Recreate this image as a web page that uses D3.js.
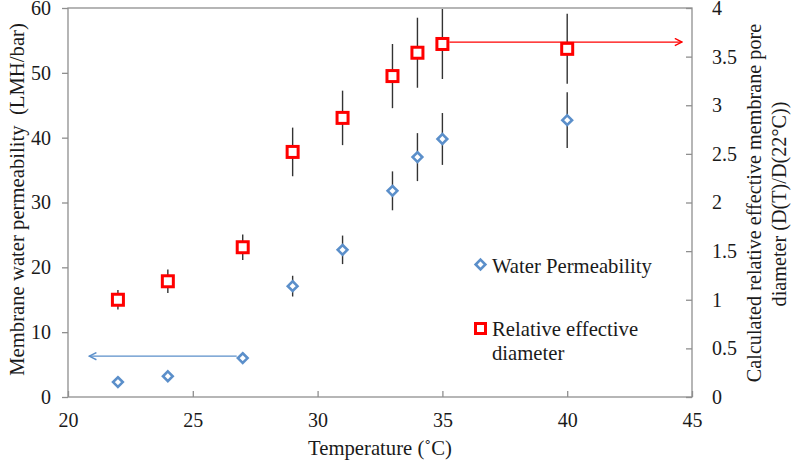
<!DOCTYPE html>
<html>
<head>
<meta charset="utf-8">
<script src="https://cdn.jsdelivr.net/npm/d3@7"></script>
<style>
  body { margin: 0; background: #fff; }
</style>
</head>
<body>
<svg id="chart" width="800" height="464"></svg>
<script>
// temperatures (deg C)
var temps = [22, 24, 27, 29, 31, 33, 34, 35, 40];
// water permeability (LMH/bar), left axis, with error half-widths
var permeability = [2.3, 3.2, 6.0, 17.1, 22.7, 31.8, 37.0, 39.8, 42.7];
var permErr = [0.4, 0.5, 0.5, 1.6, 2.2, 3.0, 3.7, 4.0, 4.3];
// relative effective diameter D(T)/D(22C), right axis
var diameter = [1.0, 1.19, 1.54, 2.52, 2.87, 3.30, 3.54, 3.63, 3.58];
var diamErr = [0.1, 0.12, 0.13, 0.25, 0.28, 0.33, 0.36, 0.36, 0.36];
// ticks
var xTicks = [20, 25, 30, 35, 40, 45];
var leftTicks = [0, 10, 20, 30, 40, 50, 60];
var rightTicks = [0, 0.5, 1, 1.5, 2, 2.5, 3, 3.5, 4];

var blue = "#5b8fca", red = "#ff0000", axisCol = "#8f8f8f", ink = "#1a1a1a";
var font = "'Liberation Serif'";

var svg = d3.select("#chart"),
    margin = {top: 8, right: 108, bottom: 67, left: 68},
    width = 800 - margin.left - margin.right,
    height = 464 - margin.top - margin.bottom,
    g = svg.append("g").attr("transform", "translate(" + margin.left + "," + margin.top + ")");

var x = d3.scaleLinear().domain([20, 45]).range([0, width]);
var yL = d3.scaleLinear().domain([0, 60]).range([height, 0]);
var yR = d3.scaleLinear().domain([0, 4]).range([height, 0]);

var txt = function(sel, size) {
  sel.style("font-family", font).style("font-size", (size || 20.7) + "px").attr("fill", ink);
};

// plot frame
g.append("rect").attr("width", width).attr("height", height)
  .attr("fill", "none").attr("stroke", axisCol).attr("stroke-width", 1.3);

var styleAxis = function(sel) {
  sel.select(".domain").remove();
  sel.selectAll(".tick line").attr("stroke", axisCol).attr("stroke-width", 1.3);
  sel.selectAll(".tick text").call(txt, 20);
};

g.append("g")
  .call(d3.axisLeft(yL).tickValues(leftTicks).tickSize(6).tickPadding(11))
  .call(styleAxis);

g.append("g")
  .attr("transform", "translate(" + width + ",0)")
  .call(d3.axisRight(yR).tickValues(rightTicks).tickSize(-6).tickPadding(20)
    .tickFormat(function(d) { return d; }))
  .call(styleAxis);

var xa = g.append("g")
  .attr("transform", "translate(0," + height + ")")
  .call(d3.axisBottom(x).tickValues(xTicks).tickSize(-6).tickPadding(30))
  .call(styleAxis);
xa.selectAll(".tick text").attr("dy", 0);

// clip for error bars
svg.append("defs").append("clipPath").attr("id", "plotclip")
  .append("rect").attr("width", width).attr("height", height);

var data = temps.map(function(t, i) {
  return {t: t, p: permeability[i], pe: permErr[i], d: diameter[i], de: diamErr[i]};
});

var bars = g.append("g").attr("clip-path", "url(#plotclip)");
bars.selectAll("line.pe").data(data).enter().append("line")
  .attr("class", "pe")
  .attr("x1", function(d) { return x(d.t); }).attr("x2", function(d) { return x(d.t); })
  .attr("y1", function(d) { return yL(d.p - d.pe); }).attr("y2", function(d) { return yL(d.p + d.pe); })
  .attr("stroke", "#333").attr("stroke-width", 1.4);
bars.selectAll("line.de").data(data).enter().append("line")
  .attr("class", "de")
  .attr("x1", function(d) { return x(d.t); }).attr("x2", function(d) { return x(d.t); })
  .attr("y1", function(d) { return yR(d.d - d.de); }).attr("y2", function(d) { return yR(d.d + d.de); })
  .attr("stroke", "#333").attr("stroke-width", 1.4);

// arrows
var defs = svg.select("defs");
var arrowHead = function(id, col) {
  defs.append("marker").attr("id", id).attr("viewBox", "0 0 10 10")
    .attr("refX", 9).attr("refY", 5).attr("markerWidth", 9).attr("markerHeight", 9)
    .attr("markerUnits", "userSpaceOnUse").attr("orient", "auto")
    .append("path").attr("d", "M1,1 L9,5 L1,9").attr("fill", "none")
    .attr("stroke", col).attr("stroke-width", 1.6);
};
arrowHead("ab", blue);
arrowHead("ar", red);

// blue arrow: from the 27 C point to the left axis
g.append("line")
  .attr("x1", x(27) - 6).attr("x2", x(20.85))
  .attr("y1", yL(6.3)).attr("y2", yL(6.3))
  .attr("stroke", blue).attr("stroke-width", 1.4).attr("marker-end", "url(#ab)");
// red arrow: from the 35 C point to the right axis
g.append("line")
  .attr("x1", x(35) + 7).attr("x2", x(44.6))
  .attr("y1", yR(3.65)).attr("y2", yR(3.65))
  .attr("stroke", red).attr("stroke-width", 1.2).attr("marker-end", "url(#ar)");

// markers
var diamond = d3.symbol().type(d3.symbolDiamond2).size(60);
g.selectAll("path.perm").data(data).enter().append("path")
  .attr("class", "perm")
  .attr("d", diamond)
  .attr("transform", function(d) { return "translate(" + x(d.t) + "," + yL(d.p) + ")"; })
  .attr("fill", "#fff").attr("stroke", blue).attr("stroke-width", 2.6);

g.selectAll("rect.diam").data(data).enter().append("rect")
  .attr("class", "diam")
  .attr("x", function(d) { return x(d.t) - 5.5; })
  .attr("y", function(d) { return yR(d.d) - 5.5; })
  .attr("width", 11).attr("height", 11)
  .attr("fill", "#fff").attr("stroke", red).attr("stroke-width", 3);

// legend
var lg = svg.append("g");
lg.append("path").attr("d", diamond)
  .attr("transform", "translate(480.5,264.5)")
  .attr("fill", "#fff").attr("stroke", blue).attr("stroke-width", 2.6);
lg.append("text").attr("x", 492).attr("y", 273).call(txt).text("Water Permeability");
lg.append("rect").attr("x", 475.5).attr("y", 323.5).attr("width", 10).attr("height", 10)
  .attr("fill", "#fff").attr("stroke", red).attr("stroke-width", 3);
lg.append("text").attr("x", 492).attr("y", 336).call(txt).text("Relative effective");
lg.append("text").attr("x", 492).attr("y", 360).call(txt).text("diameter");

// axis titles
svg.append("text")
  .attr("transform", "translate(24," + (margin.top + height / 2 - 3) + ") rotate(-90)")
  .attr("text-anchor", "middle").call(txt)
  .style("white-space", "pre")
  .text("Membrane water permeability  (LMH/bar)");

svg.append("text")
  .attr("transform", "translate(761,203) rotate(-90)")
  .attr("text-anchor", "middle").call(txt, 20.2)
  .text("Calculated relative effective membrane pore");
svg.append("text")
  .attr("transform", "translate(786,204) rotate(-90)")
  .attr("text-anchor", "middle").call(txt, 20.2)
  .text("diameter (D(T)/D(22°C))");

svg.append("text")
  .attr("x", margin.left + x(32.5)).attr("y", 455)
  .attr("text-anchor", "middle").call(txt)
  .text("Temperature (˚C)");
</script>
</body>
</html>
